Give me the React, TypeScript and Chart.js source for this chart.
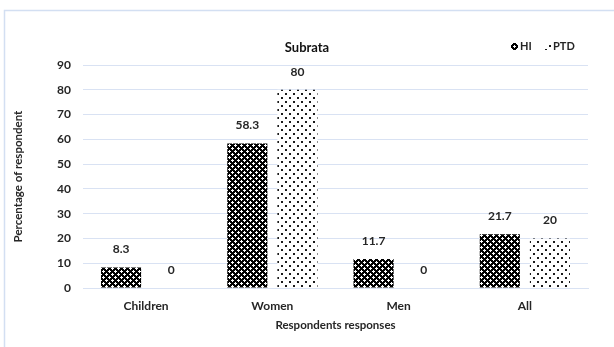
import React, { useEffect, useRef } from "react";
import { Chart, registerables } from "chart.js";

Chart.register(...registerables);

const categories = ["Children", "Women", "Men", "All"];
const seriesNames = ["HI", "PTD"];
const hiValues = [8.3, 58.3, 11.7, 21.7];
const ptdValues = [0, 80, 0, 20];
const yMin = 0;
const yMax = 90;
const yStep = 10;
const chartTitle = "Subrata";
const xAxisTitle = "Respondents responses";
const yAxisTitle = "Percentage of respondent";

const FONT = "Lato, 'Liberation Sans', sans-serif";
const TEXT = "#262626";
const GRID = "#d9e2f3";
const FRAME = "#d3dff2";

function makePattern(rows: string[], fg: string, bg: string): CanvasPattern | string {
  const h = rows.length;
  const w = rows[0].length;
  const c = document.createElement("canvas");
  c.width = w;
  c.height = h;
  const ctx = c.getContext("2d");
  if (!ctx) return fg;
  ctx.fillStyle = bg;
  ctx.fillRect(0, 0, w, h);
  ctx.fillStyle = fg;
  for (let y = 0; y < h; y++) {
    for (let x = 0; x < w; x++) {
      if (rows[y][x] === "#") ctx.fillRect(x, y, 1, 1);
    }
  }
  const out = document.createElement("canvas").getContext("2d");
  const p = out ? out.createPattern(c, "repeat") : null;
  return p || fg;
}

const hiTile = [
  "#.####",
  "...###",
  "#.####",
  "####.#",
  "###...",
  "####.#",
];

const ptdTile = [
  "........",
  ".##.....",
  ".##.....",
  "........",
  "........",
  ".....##.",
  ".....##.",
  "........",
];

export default function App() {
  const ref = useRef<HTMLCanvasElement | null>(null);

  useEffect(() => {
    if (!ref.current) return;
    const hiPattern = makePattern(hiTile, "#000000", "#ffffff");
    const ptdPattern = makePattern(ptdTile, "#1a1a1a", "#ffffff");
    const patterns = [hiPattern, ptdPattern];

    const decor = {
      id: "decor",
      beforeDraw(chart: any) {
        const ctx = chart.ctx;
        ctx.save();
        ctx.fillStyle = "#ffffff";
        ctx.fillRect(0, 0, chart.width, chart.height);
        ctx.strokeStyle = FRAME;
        ctx.lineWidth = 1.5;
        ctx.beginPath();
        ctx.moveTo(4.5, chart.height);
        ctx.lineTo(4.5, 10.5);
        ctx.lineTo(chart.width, 10.5);
        ctx.stroke();
        ctx.restore();
      },
      afterDatasetsDraw(chart: any) {
        const ctx = chart.ctx;
        ctx.save();
        ctx.font = `bold 12px ${FONT}`;
        ctx.fillStyle = TEXT;
        ctx.textAlign = "center";
        ctx.textBaseline = "middle";
        chart.data.datasets.forEach((ds: any, i: number) => {
          const meta = chart.getDatasetMeta(i);
          meta.data.forEach((el: any, j: number) => {
            const v = ds.data[j];
            ctx.fillText(String(v), el.x, el.y - 18);
          });
        });
        ctx.restore();
      },
      afterDraw(chart: any) {
        const ctx = chart.ctx;
        ctx.save();
        ctx.fillStyle = "#111111";
        ctx.font = `bold 13px ${FONT}`;
        ctx.textAlign = "center";
        ctx.textBaseline = "middle";
        ctx.fillText(chartTitle, chart.width / 2, 48);
        // legend
        ctx.font = `bold 11px ${FONT}`;
        ctx.textAlign = "left";
        let x = 511;
        const cy = 46;
        seriesNames.forEach((name, i) => {
          ctx.fillStyle = patterns[i] as any;
          ctx.fillRect(x, cy - 3, 7, 7);
          ctx.fillStyle = TEXT;
          ctx.fillText(name, x + 9, cy + 0.5);
          x += 33;
        });
        ctx.restore();
      },
    };

    const chart = new Chart(ref.current, {
      type: "bar",
      data: {
        labels: categories,
        datasets: [
          { label: seriesNames[0], data: hiValues, backgroundColor: hiPattern as any, borderWidth: 0 },
          { label: seriesNames[1], data: ptdValues, backgroundColor: ptdPattern as any, borderWidth: 0 },
        ],
      },
      options: {
        responsive: false,
        animation: false,
        devicePixelRatio: 1,
        layout: { padding: { left: 0, right: 26, top: 65, bottom: 0 } },
        datasets: { bar: { categoryPercentage: 0.794, barPercentage: 0.8 } },
        plugins: {
          legend: { display: false },
          title: { display: false },
          tooltip: { enabled: false },
        },
        scales: {
          x: {
            grid: { display: false, drawTicks: false },
            border: { display: true, color: GRID, width: 1 },
            ticks: { font: { family: FONT, size: 12, weight: "bold" }, color: TEXT, padding: 11 },
            title: {
              display: true,
              text: xAxisTitle,
              font: { family: FONT, size: 11.5, weight: "bold" },
              color: TEXT,
              padding: { top: 0, bottom: 15 },
            },
            afterFit(scale: any) {
              scale.height = 59;
            },
          },
          y: {
            min: yMin,
            max: yMax,
            grid: { color: GRID, drawTicks: false, lineWidth: 1 },
            border: { display: false },
            ticks: { stepSize: yStep, font: { family: FONT, size: 12, weight: "bold" }, color: TEXT, padding: 12 },
            title: {
              display: true,
              text: yAxisTitle,
              font: { family: FONT, size: 11.5, weight: "bold" },
              color: TEXT,
              padding: { top: 11, bottom: 0 },
            },
            afterFit(scale: any) {
              scale.width = 83;
            },
          },
        },
      },
      plugins: [decor],
    } as any);

    return () => chart.destroy();
  }, []);

  return (
    <div style={{ position: "fixed", left: 0, top: 0, width: 614, height: 347, background: "#fff" }}>
      <canvas ref={ref} width={614} height={347} style={{ display: "block", width: 614, height: 347 }} />
    </div>
  );
}
